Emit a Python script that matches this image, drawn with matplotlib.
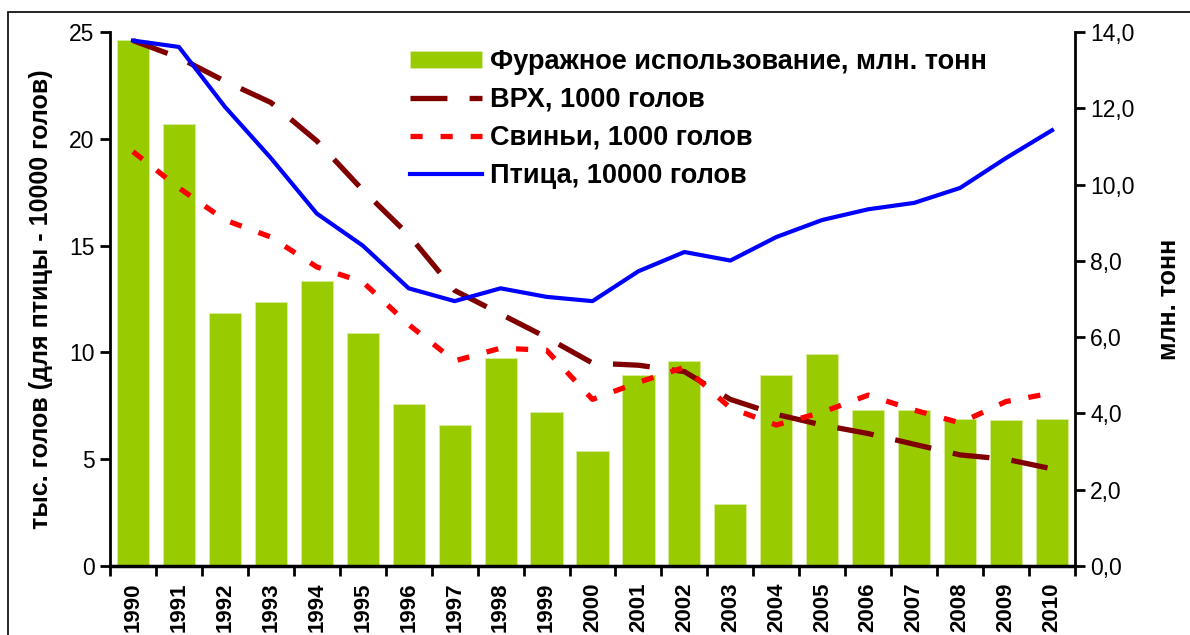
import matplotlib
matplotlib.use("Agg")
import matplotlib.pyplot as plt
from matplotlib.patches import Rectangle
from matplotlib.ticker import FixedLocator, FuncFormatter

years = [str(y) for y in range(1990, 2011)]
fodder = [13.8, 11.6, 6.63, 6.92, 7.47, 6.11, 4.25, 3.70, 5.45, 4.04, 3.02,
          5.01, 5.37, 1.63, 5.01, 5.56, 4.09, 4.09, 3.85, 3.83, 3.85]
cattle = [24.6, 23.8, 22.7, 21.7, 19.9, 17.6, 15.5, 12.9, 11.8, 10.7, 9.5,
          9.4, 9.1, 7.8, 7.1, 6.6, 6.2, 5.7, 5.2, 5.0, 4.55]
pigs = [19.4, 17.7, 16.2, 15.4, 14.0, 13.3, 11.3, 9.6, 10.2, 10.1, 7.8,
        8.6, 9.3, 7.4, 6.6, 7.2, 8.0, 7.3, 6.7, 7.7, 8.1]
poultry = [24.6, 24.3, 21.5, 19.1, 16.5, 15.0, 13.0, 12.4, 13.0, 12.6, 12.4,
           13.8, 14.7, 14.3, 15.4, 16.2, 16.7, 17.0, 17.7, 19.1, 20.4]

labels = ["Фуражное использование, млн. тонн", "ВРХ, 1000 голов",
          "Свиньи, 1000 голов", "Птица, 10000 голов"]
left_ticks = [0, 5, 10, 15, 20, 25]
right_ticks = [0, 2, 4, 6, 8, 10, 12, 14]

plt.rcParams['font.family'] = ['Liberation Sans', 'DejaVu Sans']

W, H = 1190, 635
fig = plt.figure(figsize=(W / 100, H / 100), dpi=100)
ax = fig.add_axes([110 / W, 1 - 566 / H, (1075 - 110) / W, (566 - 32) / H])
ax2 = ax.twinx()

x = list(range(len(years)))
ax2.bar(x, fodder, width=0.7, color='#99CC00', edgecolor='#D8EDA0',
        linewidth=0.6, label=labels[0], zorder=1)
l1, = ax.plot(x, cattle, color='#800000', lw=3.8, dashes=(7, 4.2),
              label=labels[1])
l2, = ax.plot(x, pigs, color='#FF0000', lw=3.8, dashes=(2.3, 3.4),
              label=labels[2])
l3, = ax.plot(x, poultry, color='#0000FF', lw=3.0, label=labels[3])

# bars behind the lines
ax.set_zorder(ax2.get_zorder() + 1)
ax.patch.set_visible(False)

ax.set_xlim(-0.5, len(years) - 0.5)
ax.set_ylim(0, 25)
ax2.set_ylim(0, 14)

ax.set_yticks(left_ticks)
ax2.set_yticks(right_ticks)
ax2.yaxis.set_major_formatter(FuncFormatter(lambda v, p: f"{v:.1f}".replace('.', ',')))

ax.set_xticks(x)
ax.set_xticklabels(years, rotation=90, fontsize=16, fontweight='bold')
ax.xaxis.set_minor_locator(FixedLocator([i - 0.5 for i in range(len(years) + 1)]))
ax.tick_params(axis='x', which='major', length=0, pad=12)
ax.tick_params(axis='x', which='minor', length=7, width=2, direction='out')

ax.tick_params(axis='y', labelsize=16.5, length=7, width=2, direction='out', pad=4)
ax2.tick_params(axis='y', labelsize=16.5, length=7, width=2, direction='out', pad=4)

for a in (ax, ax2):
    a.spines['top'].set_visible(False)
    a.spines['left'].set_linewidth(2)
    a.spines['right'].set_linewidth(2)
    a.spines['bottom'].set_linewidth(2.5)
ax.spines['right'].set_visible(False)
ax2.spines['left'].set_visible(False)
ax2.spines['bottom'].set_visible(False)

ax.set_ylabel("тыс. голов (для птицы - 10000 голов)", fontsize=18,
              fontweight='bold', labelpad=12)
ax2.set_ylabel("млн. тонн", fontsize=18, fontweight='bold', labelpad=16,
               rotation=90)

handles = [ax2.containers[0], l1, l2, l3]
leg = ax.legend(handles, labels, loc='upper left',
                bbox_to_anchor=(300 / 965, 1 - 17 / 534), frameon=False,
                prop={'size': 19.5, 'weight': 'bold'}, handlelength=2.67,
                handleheight=0.6, handletextpad=0.3, labelspacing=0.44,
                borderaxespad=0, borderpad=0)

# outer frame
fig.patches.append(Rectangle((8 / W, -0.05), 1.2, 1 - 12 / H + 0.05,
                             transform=fig.transFigure, fill=False,
                             edgecolor='black', linewidth=1.2))

fig.savefig("out.png", dpi=100)
